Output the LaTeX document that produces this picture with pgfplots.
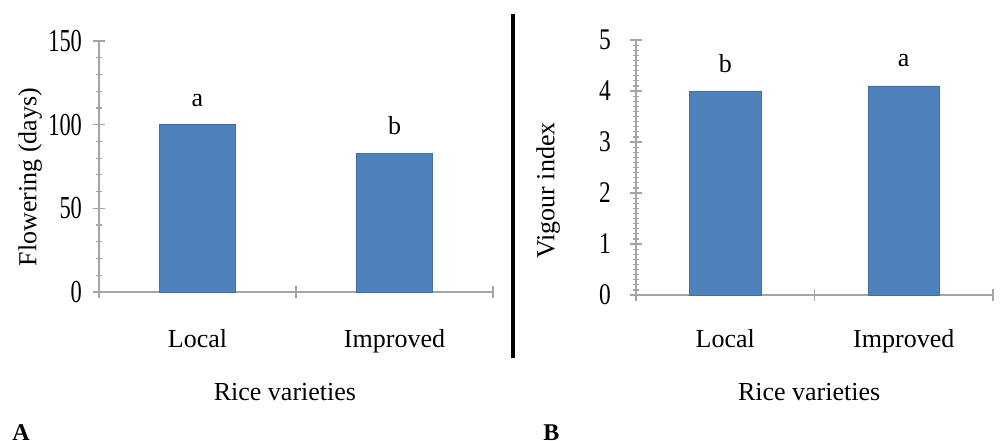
\documentclass[border=0pt]{standalone}
\usepackage{fontspec}
\setmainfont{Liberation Serif}
\newfontfamily\tickfont[FakeStretch=0.7]{Liberation Serif}
\newfontfamily\tickfontb[FakeStretch=0.78]{Liberation Serif}
\usepackage{pgfplots}
\pgfplotsset{compat=1.18}
\definecolor{barblue}{RGB}{79,129,189}
\definecolor{axgray}{RGB}{165,165,165}
\begin{document}
\begin{tikzpicture}
\useasboundingbox (0pt,0pt) rectangle (500pt,220pt);
\pgfplotsset{myax/.style={
  scale only axis, clip=false,
  axis x line=bottom, axis y line=left,
  axis line style={-, axgray, line width=0.7pt},
  tick style={axgray, line width=0.6pt},
  tick align=center, major tick length=6pt, minor tick length=3pt,
  xmin=0, xmax=2, xtick={0,1,2}, xticklabels={,,},
  extra x ticks={0.5,1.5}, extra x tick labels={Local,Improved},
  extra x tick style={major tick length=0pt},
  /pgf/number format/assume math mode=true,
  ticklabel style={font=\fontsize{13}{15}\selectfont},
  label style={font=\fontsize{13}{15}\selectfont},
}}
% Panel A
\begin{axis}[myax, at={(49.5pt,74pt)}, anchor=south west, width=197pt, height=125.5pt,
  ymin=0, ymax=150, ytick={0,50,100,150}, minor y tick num=4,
  yticklabel style={xshift=-2pt, font=\tickfont\fontsize{16}{18}\selectfont},
  xticklabel style={yshift=-15pt},
  ylabel={Flowering (days)},
  ylabel style={at={(axis description cs:-0.175,0.458)}, anchor=center},
  xlabel={Rice varieties},
  xlabel style={at={(axis description cs:0.472,-0.398)}, anchor=center}]
\addplot[ybar, bar width=0.386, fill=barblue, draw=barblue!85!black] coordinates {(0.5,100) (1.5,83)};
\node[anchor=base, font=\fontsize{13}{15}\selectfont] at (axis cs:0.5,110.6) {a};
\node[anchor=base, font=\fontsize{13}{15}\selectfont] at (axis cs:1.5,94.4) {b};
\end{axis}
% Panel B
\begin{axis}[myax, at={(318pt,72.5pt)}, anchor=south west, width=178.5pt, height=127.5pt,
  ymin=0, ymax=5, ytick={0,1,2,3,4,5}, minor y tick num=9,
  yticklabel style={xshift=-6pt, font=\tickfontb\fontsize{15}{17}\selectfont},
  xticklabel style={yshift=-13.5pt},
  ylabel={Vigour index},
  ylabel style={at={(axis description cs:-0.246,0.41)}, anchor=center},
  xlabel={Rice varieties},
  xlabel style={at={(axis description cs:0.485,-0.38)}, anchor=center}]
\addplot[ybar, bar width=0.4, fill=barblue, draw=barblue!85!black] coordinates {(0.5,4.0) (1.5,4.1)};
\node[anchor=base, font=\fontsize{13}{15}\selectfont] at (axis cs:0.5,4.37) {b};
\node[anchor=base, font=\fontsize{13}{15}\selectfont] at (axis cs:1.5,4.49) {a};
\end{axis}
\draw[line width=2pt] (256.25pt,213pt) -- (256.25pt,41pt);
\node[anchor=base west, inner sep=0pt, font=\bfseries\fontsize{12}{14}\selectfont] at (6pt,0pt) {A};
\node[anchor=base west, inner sep=0pt, font=\bfseries\fontsize{12}{14}\selectfont] at (271.5pt,0pt) {B};
\end{tikzpicture}
\end{document}
